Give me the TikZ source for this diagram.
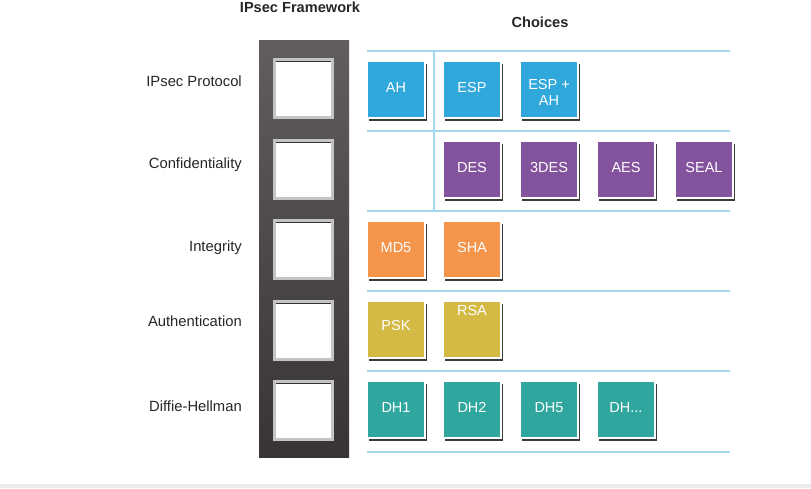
\documentclass[tikz,border=0pt]{standalone}
\usepackage{fontspec}
\setmainfont{Liberation Sans}
\usetikzlibrary{shadows}
\definecolor{cblue}{HTML}{30A8DC}
\definecolor{cpurple}{HTML}{83539D}
\definecolor{corange}{HTML}{F5954B}
\definecolor{cyellow}{HTML}{D4B945}
\definecolor{cteal}{HTML}{2FA79E}
\definecolor{sepline}{HTML}{A3D7EF}
\definecolor{coltop}{HTML}{625D5E}
\definecolor{colbot}{HTML}{383334}
\definecolor{framegray}{HTML}{C4C4C4}
\definecolor{footgray}{HTML}{ECECEC}
\tikzset{
  choice/.style={draw=white, line width=2pt, minimum width=58pt, minimum height=57pt,
    inner sep=0pt, text=white, font=\fontsize{14.5}{16.7}\selectfont, align=center,
    text height=10.5pt, text depth=4.5pt,
    drop shadow={shadow xshift=1.5pt, shadow yshift=-3pt, fill=black!85, opacity=0.9}},
  boxtext/.style={text=white, font=\fontsize{14.5}{16.7}\selectfont, inner sep=0pt, align=center},
  slot/.style={draw=framegray, line width=3pt, fill=white, minimum size=58pt, inner sep=0pt},
  rowlabel/.style={anchor=base east, inner sep=0pt, font=\fontsize{14.8}{16}\selectfont, text=black!85},
  title/.style={font=\bfseries\fontsize{14.6}{16}\selectfont, text=black!85},
  sep/.style={draw=sepline, line width=2.5pt}
}
\begin{document}
\begin{tikzpicture}[x=1pt,y=-1pt]
\useasboundingbox (0,0) rectangle (811,488);
\fill[footgray] (0,484) rectangle (811,488);
% column
\shade[top color=coltop, bottom color=colbot] (259,40) rectangle (349,457);
% slots
\foreach \n/\y in {s1/88.5, s2/169.5, s3/249.5, s4/330.5, s5/410.5}{
  \node[slot] (\n) at (303.5,\y) {};
  \draw[black!80, line width=1.5pt] ([xshift=3pt,yshift=-3.5pt]\n.north west) -- ([xshift=-3pt,yshift=-3.5pt]\n.north east);
}
% titles
\node[title] (tf) at (300,7) {IPsec Framework};
\node[title] (tc) at (540,22) {Choices};
% row labels
\node[rowlabel] (l1) at (242,86.7) {IPsec Protocol};
\node[rowlabel] (l2) at (242,168.3) {Confidentiality};
\node[rowlabel] (l3) at (242,251) {Integrity};
\node[rowlabel] (l4) at (242,326.7) {Authentication};
\node[rowlabel] (l5) at (242,411.7) {Diffie-Hellman};
% separator lines
\foreach \y in {51,131,211,291,371,452}{
  \draw[sep] (367,\y) -- (730,\y);
}
\draw[sep] (434,51) -- (434,211);
% choices
\node[choice, fill=cblue] (ah) at (396,89) {AH};
\node[choice, fill=cblue] (esp) at (472,89) {ESP};
\node[choice, fill=cblue] (espah) at (549,89) {};
\node[boxtext] (espaht) at ([yshift=-3.5pt]espah.center) {ESP +\\AH};
\node[choice, fill=cpurple] (des) at (472,169) {DES};
\node[choice, fill=cpurple] (tdes) at (549,169) {3DES};
\node[choice, fill=cpurple] (aes) at (626,169) {AES};
\node[choice, fill=cpurple] (seal) at (704,169) {SEAL};
\node[choice, fill=corange] (md5) at (396,249.5) {MD5};
\node[choice, fill=corange] (sha) at (472,249.5) {SHA};
\node[choice, fill=cyellow] (psk) at (396,329.5) {};
\node[boxtext, anchor=base] (pskt) at ([yshift=-0.5pt]psk.center) {PSK};
\node[choice, fill=cyellow] (rsa) at (472,329.5) {};
\node[boxtext, anchor=base] (rsat) at ([yshift=-15pt]rsa.north) {RSA};
\node[choice, fill=cteal] (dh1) at (396,409.5) {DH1};
\node[choice, fill=cteal] (dh2) at (472,409.5) {DH2};
\node[choice, fill=cteal] (dh5) at (549,409.5) {DH5};
\node[choice, fill=cteal] (dhx) at (626,409.5) {DH...};
\end{tikzpicture}
\end{document}
